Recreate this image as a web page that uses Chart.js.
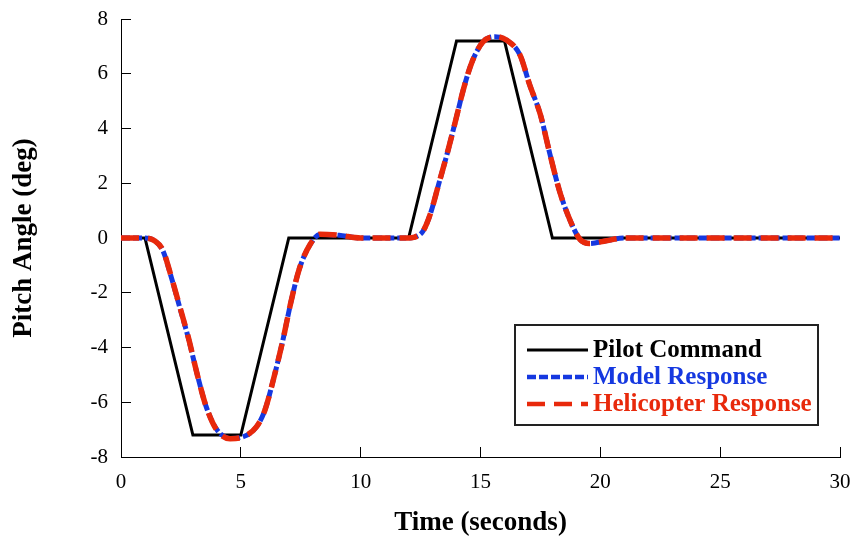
<!DOCTYPE html>
<html>
<head>
<meta charset="utf-8">
<script src="https://cdn.jsdelivr.net/npm/chart.js@4.4.1/dist/chart.umd.min.js"></script>
<style>
  html, body { margin: 0; padding: 0; background: #fff; }
  #wrap { width: 854px; height: 539px; position: relative; }
</style>
</head>
<body>
<div id="wrap"><canvas id="pitchChart" width="854" height="539"></canvas></div>
<script>
// pilot stick command (deg) - piecewise ramps
const cmdTime  = [0, 1, 3, 5, 7, 12, 14, 16, 18, 30];
const cmdPitch = [0, 0, -7.2, -7.2, 0, 0, 7.2, 7.2, 0, 0];

// model and helicopter responses
const respTime = [0, 1, 1.4, 1.75, 2.1, 2.45, 2.8, 3.2, 3.55, 4.0, 4.55, 5.1, 5.65, 6.0, 6.35, 6.75, 7.1, 7.45, 7.9, 8.3, 9.1, 10, 12,
                  12.2, 12.6, 12.9, 13.25, 13.6, 13.95, 14.3, 14.65, 15.1, 15.6, 16.1, 16.65, 17.05, 17.5, 17.9, 18.3, 18.75, 19.15, 19.55, 20.25, 21, 30];
const modelPitch = [0, 0, -0.1, -0.47, -1.44, -2.53, -3.62, -5.05, -6.15, -7.0, -7.32, -7.26, -6.9, -6.3, -5.2, -3.75, -2.3, -1.1, -0.23, 0.13, 0.1, 0, 0,
                    0.02, 0.25, 0.86, 1.95, 3.05, 4.25, 5.47, 6.44, 7.16, 7.35, 7.22, 6.68, 5.6, 4.5, 3.05, 1.71, 0.62, -0.05, -0.2, -0.1, 0, 0];
const heliPitch  = [0, 0, -0.1, -0.45, -1.42, -2.5, -3.6, -5.05, -6.15, -7.02, -7.33, -7.26, -6.9, -6.3, -5.2, -3.75, -2.3, -1.1, -0.22, 0.14, 0.1, 0, 0,
                    0.02, 0.25, 0.86, 1.95, 3.05, 4.25, 5.47, 6.44, 7.16, 7.36, 7.22, 6.68, 5.6, 4.5, 3.05, 1.71, 0.62, -0.05, -0.2, -0.1, 0, 0];

const xTicks = [0, 5, 10, 15, 20, 25, 30];
const yTicks = [-8, -6, -4, -2, 0, 2, 4, 6, 8];

const seriesNames = ['Pilot Command', 'Model Response', 'Helicopter Response'];
const seriesColors = ['#000000', '#1538e0', '#e8290b'];

function toPoints(xs, ys) {
    return xs.map((x, i) => ({ x: x, y: ys[i] }));
}

const serif = "'Liberation Serif', 'Times New Roman', serif";

// boxed legend in the lower right of the plot area
const boxLegend = {
    id: 'boxLegend',
    afterDraw(chart) {
        const ctx = chart.ctx;
        const area = chart.chartArea;
        const right = area.right - 22, bottom = area.bottom - 32;
        const w = 303, h = 100;
        const left = right - w, top = bottom - h;
        ctx.save();
        ctx.fillStyle = '#fff';
        ctx.fillRect(left, top, w, h);
        ctx.strokeStyle = '#222';
        ctx.lineWidth = 2;
        ctx.strokeRect(left, top, w, h);
        ctx.font = 'bold 25px ' + serif;
        ctx.textBaseline = 'middle';
        chart.data.datasets.forEach((ds, i) => {
            const y = top + 25 + i * 27;
            ctx.beginPath();
            ctx.strokeStyle = ds.borderColor;
            ctx.lineWidth = i === 0 ? 3 : 4.5;
            ctx.setLineDash(ds.borderDash || []);
            ctx.moveTo(left + 12, y);
            ctx.lineTo(left + 73, y);
            ctx.stroke();
            ctx.setLineDash([]);
            ctx.fillStyle = ds.borderColor;
            ctx.fillText(ds.label, left + 78, y + 1);
        });
        ctx.restore();
    }
};

const ctx = document.getElementById('pitchChart').getContext('2d');
new Chart(ctx, {
    type: 'scatter',
    data: {
        datasets: [
            {
                label: seriesNames[0],
                data: toPoints(cmdTime, cmdPitch),
                showLine: true,
                borderColor: seriesColors[0],
                borderWidth: 3,
                pointRadius: 0,
                order: 2
            },
            {
                label: seriesNames[1],
                data: toPoints(respTime, modelPitch),
                showLine: true,
                borderColor: seriesColors[1],
                borderWidth: 5,
                borderDash: [9, 3],
                cubicInterpolationMode: 'monotone',
                pointRadius: 0,
                order: 1
            },
            {
                label: seriesNames[2],
                data: toPoints(respTime, heliPitch),
                showLine: true,
                borderColor: seriesColors[2],
                borderWidth: 5.5,
                borderDash: [18, 9],
                cubicInterpolationMode: 'monotone',
                pointRadius: 0,
                order: 0
            }
        ]
    },
    options: {
        responsive: false,
        animation: false,
        events: [],
        layout: { padding: { top: 19, right: 14, left: 0, bottom: 0 } },
        plugins: {
            legend: { display: false },
            tooltip: { enabled: false }
        },
        scales: {
            x: {
                type: 'linear',
                min: 0,
                max: 30,
                afterBuildTicks: (s) => { s.ticks = xTicks.map(v => ({ value: v })); },
                afterFit: (s) => { s.height = 82; s.paddingLeft = 0; s.paddingRight = 0; },
                border: { display: true, color: '#000', width: 1 },
                grid: { drawOnChartArea: false, drawTicks: true, tickLength: -10, color: '#000' },
                ticks: { color: '#000', padding: 23, font: { family: serif, size: 21 } },
                title: {
                    display: true,
                    text: 'Time (seconds)',
                    color: '#000',
                    font: { family: serif, size: 27, weight: 'bold' },
                    padding: { top: 0, bottom: 0 }
                }
            },
            y: {
                type: 'linear',
                min: -8,
                max: 8,
                afterBuildTicks: (s) => { s.ticks = yTicks.map(v => ({ value: v })); },
                afterFit: (s) => { s.width = 121; s.paddingTop = 0; s.paddingBottom = 0; },
                border: { display: true, color: '#000', width: 1 },
                grid: { drawOnChartArea: false, drawTicks: true, tickLength: -10, color: '#000' },
                ticks: { color: '#000', padding: 23, font: { family: serif, size: 21 } },
                title: {
                    display: true,
                    text: 'Pitch Angle (deg)',
                    color: '#000',
                    font: { family: serif, size: 27, weight: 'bold' },
                    padding: { top: 8, bottom: 0 }
                }
            }
        }
    },
    plugins: [boxLegend]
});
</script>
</body>
</html>
